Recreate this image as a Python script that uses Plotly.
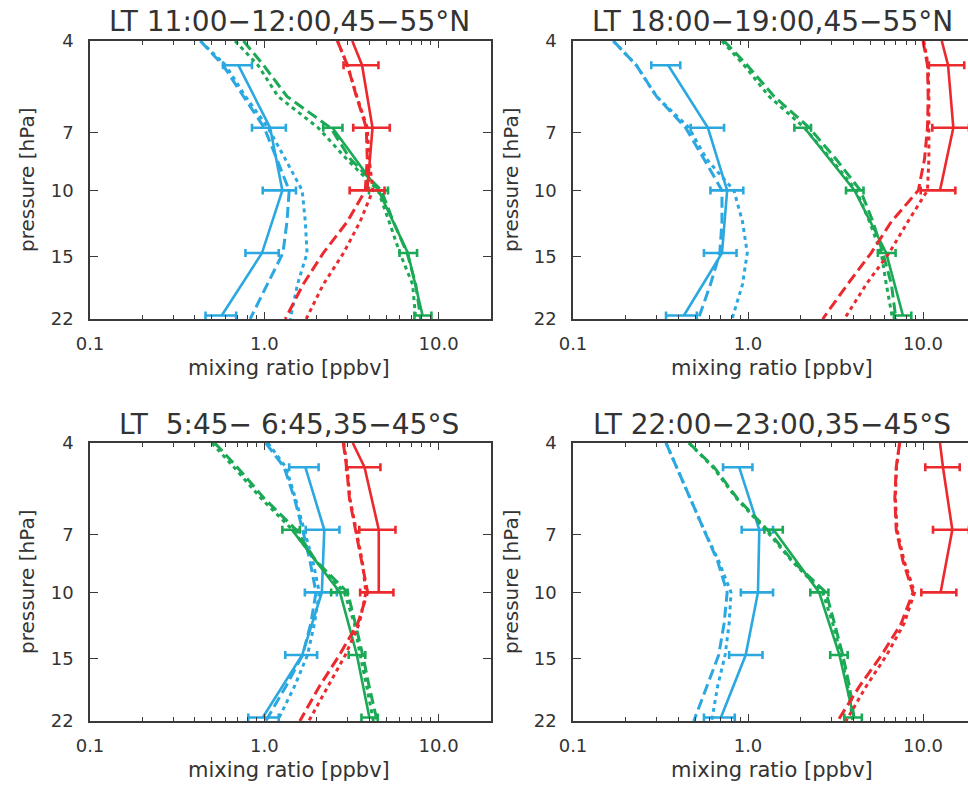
import numpy as np
import plotly.graph_objects as go

W, H = 968, 785
FONT = "DejaVu Sans"
TXT = "#333333"
AX = "#3a3a3a"
BLUE, GREEN, RED = "#2BA8E0", "#1BA955", "#EC2A2E"

# pressure levels [hPa]
p_obs   = [4.64, 6.81, 10.0, 14.68, 21.54]
p_green = [6.81, 10.0, 14.68, 21.54]
p_red   = [4.0, 4.64, 6.81, 10.0]
p_mod   = [4.0, 4.64, 5.62, 6.81, 8.25, 10.0, 12.1, 14.68, 17.8, 22.0]

titles = ["LT 11:00\u221212:00,45\u221255°N",
          "LT 18:00\u221219:00,45\u221255°N",
          "LT\u00a0\u00a05:45\u2212\u00a06:45,35\u221245°S",
          "LT 22:00\u221223:00,35\u221245°S"]

# ---- panel 1 : 11:00-12:00, 45-55N
p1_blue     = [0.71, 1.08, 1.27, 0.97, 0.57]
p1_blue_lo  = [0.58, 0.85, 0.98, 0.78, 0.46]
p1_blue_hi  = [0.85, 1.33, 1.52, 1.21, 0.69]
p1_blue_dash = [0.43, 0.58, 0.76, 1.00, 1.18, 1.39, 1.35, 1.28, 1.04, 0.83]
p1_blue_dot  = [0.43, 0.60, 0.78, 1.05, 1.32, 1.65, 1.72, 1.76, 1.55, 1.41]
p1_green    = [2.46, 4.52, 6.67, 8.10]
p1_green_lo = [2.18, 3.99, 5.97, 7.27]
p1_green_hi = [2.81, 5.13, 7.53, 9.10]
p1_green_dash = [0.76, 0.99, 1.35, 2.40, 3.12, 4.70, 5.50, 6.60, 7.40, 7.90]
p1_green_dot  = [0.68, 0.92, 1.20, 2.04, 2.97, 4.50, 5.20, 6.00, 7.10, 7.40]
p1_red      = [3.20, 3.64, 4.18, 3.90]
p1_red_lo   = [2.85, 3.24, 3.09]
p1_red_hi   = [4.52, 5.25, 4.90]
p1_red_dash = [2.63, 3.00, 3.38, 3.85, 3.90, 3.80, 3.00, 2.18, 1.67, 1.32]
p1_red_dot  = [2.63, 3.00, 3.40, 3.90, 4.00, 4.20, 3.55, 2.85, 2.18, 1.74]

# ---- panel 2 : 18:00-19:00, 45-55N
p2_blue     = [0.35, 0.59, 0.76, 0.71, 0.43]
p2_blue_lo  = [0.28, 0.47, 0.61, 0.56, 0.34]
p2_blue_hi  = [0.41, 0.73, 0.94, 0.86, 0.51]
p2_blue_dash = [0.17, 0.23, 0.30, 0.44, 0.56, 0.71, 0.71, 0.69, 0.61, 0.52]
p2_blue_dot  = [0.17, 0.23, 0.30, 0.46, 0.58, 0.83, 0.93, 0.99, 0.93, 0.81]
p2_green    = [2.10, 4.06, 6.16, 7.68]
p2_green_lo = [1.84, 3.63, 5.52, 6.82]
p2_green_hi = [2.29, 4.57, 6.97, 8.57]
p2_green_dash = [0.73, 0.99, 1.41, 2.24, 3.18, 4.39, 5.17, 5.90, 6.60, 7.00]
p2_green_dot  = [0.71, 0.95, 1.32, 2.10, 2.98, 4.15, 4.94, 5.77, 6.17, 6.70]
p2_red      = [12.8, 13.9, 14.9, 12.5]
p2_red_lo   = [10.8, 11.3, 9.7]
p2_red_hi   = [17.2, 18.3, 15.3]
p2_red_dash = [10.0, 10.6, 10.7, 10.6, 10.2, 9.4, 6.6, 5.05, 3.7, 2.67]
p2_red_dot  = [10.1, 10.7, 10.8, 10.8, 10.8, 10.6, 8.2, 6.4, 4.73, 3.55]

# ---- panel 3 : 5:45-6:45, 35-45S
p3_blue     = [1.72, 2.21, 2.14, 1.65, 0.98]
p3_blue_lo  = [1.39, 1.73, 1.71, 1.32, 0.81]
p3_blue_hi  = [2.05, 2.70, 2.61, 2.01, 1.21]
p3_blue_dash = [1.02, 1.30, 1.49, 1.66, 1.83, 1.98, 1.85, 1.66, 1.33, 1.02]
p3_blue_dot  = [1.05, 1.33, 1.51, 1.70, 1.90, 2.07, 1.94, 1.77, 1.49, 1.19]
p3_green    = [1.44, 2.72, 3.40, 4.01]
p3_green_lo = [1.27, 2.42, 3.05, 3.61]
p3_green_hi = [1.60, 3.01, 3.80, 4.48]
p3_green_dash = [0.52, 0.70, 1.00, 1.52, 1.98, 3.01, 3.33, 3.67, 4.00, 4.44]
p3_green_dot  = [0.50, 0.67, 0.96, 1.45, 1.98, 2.88, 3.29, 3.55, 3.87, 4.23]
p3_red      = [3.22, 3.76, 4.54, 4.54]
p3_red_lo   = [2.95, 3.51, 3.55]
p3_red_hi   = [4.64, 5.66, 5.51]
p3_red_dash = [2.84, 2.97, 3.08, 3.33, 3.59, 3.92, 3.44, 2.70, 2.07, 1.60]
p3_red_dot  = [2.86, 2.99, 3.10, 3.38, 3.65, 3.83, 3.51, 2.92, 2.31, 1.80]

# ---- panel 4 : 22:00-23:00, 35-45S
p4_blue     = [0.89, 1.16, 1.14, 0.97, 0.70]
p4_blue_lo  = [0.72, 0.92, 0.91, 0.78, 0.56]
p4_blue_hi  = [1.06, 1.39, 1.39, 1.21, 0.84]
p4_blue_dash = [0.34, 0.39, 0.47, 0.56, 0.67, 0.76, 0.73, 0.68, 0.58, 0.49]
p4_blue_dot  = [0.34, 0.39, 0.47, 0.56, 0.68, 0.80, 0.78, 0.74, 0.67, 0.62]
p4_green    = [1.40, 2.55, 3.33, 4.02]
p4_green_lo = [1.24, 2.27, 2.95, 3.55]
p4_green_hi = [1.58, 2.88, 3.71, 4.47]
p4_green_dash = [0.46, 0.64, 0.87, 1.29, 1.80, 2.79, 3.12, 3.48, 3.80, 4.06]
p4_green_dot  = [0.46, 0.63, 0.86, 1.26, 1.78, 2.67, 3.05, 3.40, 3.72, 3.97]
p4_red      = [12.5, 13.0, 14.7, 12.6]
p4_red_lo   = [10.3, 11.4, 9.78]
p4_red_hi   = [16.2, 18.3, 15.5]
p4_red_dash = [7.35, 7.03, 6.90, 7.03, 7.68, 8.77, 7.50, 5.80, 4.33, 3.25]
p4_red_dot  = [7.35, 7.05, 6.95, 7.10, 7.80, 8.95, 7.80, 6.20, 4.73, 3.63]

panels = [
    dict(blue=(p1_blue, p1_blue_lo, p1_blue_hi, p1_blue_dash, p1_blue_dot),
         green=(p1_green, p1_green_lo, p1_green_hi, p1_green_dash, p1_green_dot),
         red=(p1_red, p1_red_lo, p1_red_hi, p1_red_dash, p1_red_dot)),
    dict(blue=(p2_blue, p2_blue_lo, p2_blue_hi, p2_blue_dash, p2_blue_dot),
         green=(p2_green, p2_green_lo, p2_green_hi, p2_green_dash, p2_green_dot),
         red=(p2_red, p2_red_lo, p2_red_hi, p2_red_dash, p2_red_dot)),
    dict(blue=(p3_blue, p3_blue_lo, p3_blue_hi, p3_blue_dash, p3_blue_dot),
         green=(p3_green, p3_green_lo, p3_green_hi, p3_green_dash, p3_green_dot),
         red=(p3_red, p3_red_lo, p3_red_hi, p3_red_dash, p3_red_dot)),
    dict(blue=(p4_blue, p4_blue_lo, p4_blue_hi, p4_blue_dash, p4_blue_dot),
         green=(p4_green, p4_green_lo, p4_green_hi, p4_green_dash, p4_green_dot),
         red=(p4_red, p4_red_lo, p4_red_hi, p4_red_dash, p4_red_dot)),
]

# pixel boxes of the four panels (left, right, top, bottom)
boxes = [(90, 491, 41, 319), (573, 968, 41, 319),
         (90, 491, 443, 721), (573, 968, 443, 721)]

def px(x):
    return x / W

def py(y):
    return 1 - y / H

fig = go.Figure()

def err_trace(x, lo, hi, p, color, xa, ya):
    x = np.array(x); lo = np.array(lo); hi = np.array(hi)
    return go.Scatter(x=x, y=p, mode="markers", marker=dict(size=1, opacity=0),
                      error_x=dict(type="data", symmetric=False, array=hi - x,
                                   arrayminus=x - lo, color=color, thickness=2.6, width=4),
                      xaxis=xa, yaxis=ya, showlegend=False, hoverinfo="skip")

def label(text, x, y, size, angle=0):
    fig.add_annotation(text=text, x=px(x), y=py(y), xref="paper", yref="paper",
                       xanchor="center", yanchor="middle", showarrow=False,
                       textangle=angle, font=dict(family=FONT, size=size, color=TXT))

for i, (pan, (l, r, t, b)) in enumerate(zip(panels, boxes)):
    n = "" if i == 0 else str(i + 1)
    xa, ya = "x" + n, "y" + n
    for key, color, p_o in (("blue", BLUE, p_obs), ("green", GREEN, p_green), ("red", RED, p_red)):
        obs, lo, hi, dash, dot = pan[key]
        fig.add_trace(go.Scatter(x=dot, y=p_mod, mode="lines", xaxis=xa, yaxis=ya,
                                 line=dict(color=color, width=3, dash="4px,4px"), showlegend=False))
        fig.add_trace(go.Scatter(x=dash, y=p_mod, mode="lines", xaxis=xa, yaxis=ya,
                                 line=dict(color=color, width=3, dash="11px,5px"), showlegend=False))
        fig.add_trace(go.Scatter(x=obs, y=p_o, mode="lines", xaxis=xa, yaxis=ya,
                                 line=dict(color=color, width=2.6), showlegend=False))
        fig.add_trace(err_trace(obs[-len(lo):], lo, hi, p_o[-len(lo):], color, xa, ya))

    left = i in (0, 2)
    xmax = 20.0 if left else 18.07
    xminor = [v * 10 ** k for k in (-1, 0) for v in range(2, 10)] + [20]
    common_x = dict(type="log", range=[-1, np.log10(xmax)], automargin=False,
                    domain=[px(l), min(px(r), 1.0)], anchor=ya,
                    showline=True, linecolor=AX, linewidth=1.5, mirror="ticks",
                    ticks="inside", ticklen=7, tickwidth=1.3, tickcolor=AX,
                    tickvals=[0.1, 1, 10], ticktext=["0.1", "1.0", "10.0"],
                    minor=dict(tickvals=xminor, ticks="inside", ticklen=4,
                               tickwidth=1.1, tickcolor=AX, showgrid=False),
                    ticklabelstandoff=8,
                    tickfont=dict(family=FONT, size=18, color=TXT),
                    showgrid=False, zeroline=False)
    common_y = dict(type="log", range=[np.log10(22), np.log10(4)], automargin=False,
                    domain=[py(b), py(t)], anchor=xa,
                    showline=True, linecolor=AX, linewidth=1.5,
                    mirror="ticks" if left else False,
                    ticks="inside", ticklen=8, tickwidth=1.3, tickcolor=AX,
                    tickvals=[4, 7, 10, 15, 22], ticktext=["4", "7", "10", "15", "22"],
                    ticklabelstandoff=11,
                    tickfont=dict(family=FONT, size=18, color=TXT),
                    showgrid=False, zeroline=False)
    fig.update_layout(**{"xaxis" + n: common_x, "yaxis" + n: common_y})

    cx = 289 if left else 772
    label(titles[i], cx, t - 19, 28)
    label("mixing ratio [ppbv]", cx, b + 49, 21)
    label("pressure [hPa]", 27 if left else 511, (t + b) / 2, 20, angle=-90)

fig.update_layout(width=W, height=H, margin=dict(l=0, r=0, t=0, b=0),
                  paper_bgcolor="white", plot_bgcolor="white", showlegend=False)

# drop the default 8px body margin so the figure fills the window
fig.write_html("out.html", config={"displayModeBar": False},
               post_script="document.body.style.margin='0px';")
